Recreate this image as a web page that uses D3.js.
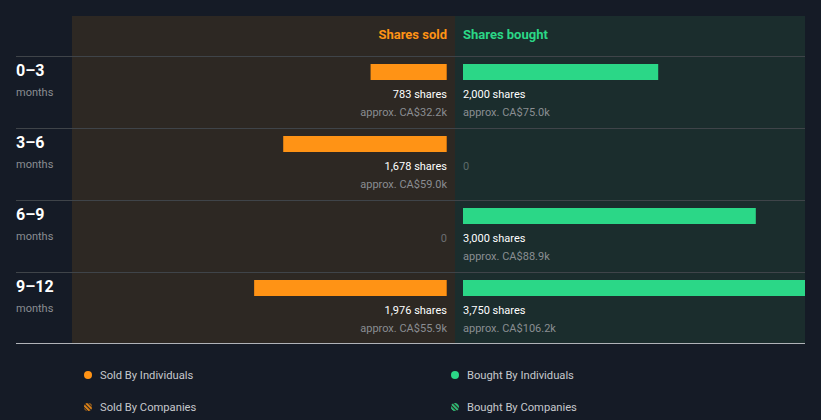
<!DOCTYPE html>
<html><head><meta charset="utf-8">
<script src="https://cdn.jsdelivr.net/npm/d3@7"></script>
<style>body{margin:0;background:#151b26;} svg{display:block;font-family:Roboto,"Noto Sans",sans-serif;}</style>
</head><body>
<svg id="c" width="821" height="420"></svg>
<script>
const periods = ["0\u20133", "3\u20136", "6\u20139", "9\u201312"];
const soldShares = [783, 1678, 0, 1976];
const soldValue = ["CA$32.2k", "CA$59.0k", "", "CA$55.9k"];
const boughtShares = [2000, 0, 3000, 3750];
const boughtValue = ["CA$75.0k", "", "CA$88.9k", "CA$106.2k"];
const legendItems = ["Sold By Individuals", "Bought By Individuals", "Sold By Companies", "Bought By Companies"];

(function(){
const svg = d3.select("#c");
const left = 16, panelL = 72, mid = 455, panelR = 805, topY = 16, headH = 40, rowH = 72;
const bottom = topY + headH + rowH * periods.length - 1;
const orange = "#ff9315", green = "#2bd787";

const defs = svg.append("defs");
defs.append("clipPath").attr("id","cb").append("rect").attr("x",mid).attr("y",topY).attr("width",panelR-mid).attr("height",bottom-topY);
defs.append("clipPath").attr("id","cs").append("rect").attr("x",panelL).attr("y",topY).attr("width",mid-panelL).attr("height",bottom-topY);
function hatch(id, col){
  const p = defs.append("pattern").attr("id",id).attr("patternUnits","userSpaceOnUse").attr("width",3).attr("height",3).attr("patternTransform","rotate(-45)");
  p.append("rect").attr("width",3).attr("height",3).attr("fill","#2d2823");
  p.append("rect").attr("width",1.6).attr("height",3).attr("fill",col);
}
hatch("ho", orange); hatch("hg", green);

svg.append("rect").attr("x",panelL).attr("y",topY).attr("width",mid-panelL).attr("height",bottom-topY).attr("fill","#2d2823");
svg.append("rect").attr("x",mid).attr("y",topY).attr("width",panelR-mid).attr("height",bottom-topY).attr("fill","#1b2d2d");

const y = d3.scaleBand().domain(periods).range([topY+headH, topY+headH+rowH*periods.length]);
const x = d3.scaleLinear().domain([0, 3750]).range([0, 366]);

svg.append("text").attr("x",mid-8).attr("y",topY+23).attr("text-anchor","end").attr("fill",orange).attr("font-size",13).attr("font-weight",700).text("Shares sold");
svg.append("text").attr("x",mid+8).attr("y",topY+23).attr("fill",green).attr("font-size",13).attr("font-weight",700).text("Shares bought");

periods.forEach((p,i)=>{
  const y0 = y(p);
  svg.append("line").attr("x1",left).attr("x2",panelR).attr("y1",y0+0.5).attr("y2",y0+0.5).attr("stroke","#3f4449").attr("stroke-width",1);
  svg.append("text").attr("x",left).attr("y",y0+20).attr("fill","#ffffff").attr("font-size",16).attr("font-weight",700).text(p);
  svg.append("text").attr("x",left).attr("y",y0+40).attr("fill","#8a8d92").attr("font-size",11).text("months");
  const gs = svg.append("g").attr("clip-path","url(#cs)");
  if (soldShares[i] > 0) {
    gs.append("rect").attr("x",mid-8-x(soldShares[i])).attr("y",y0+8).attr("width",x(soldShares[i])).attr("height",16).attr("fill",orange);
    gs.append("rect").attr("x",mid-9).attr("y",y0+8).attr("width",1).attr("height",16).attr("fill","#c8700f");
    svg.append("text").attr("x",mid-8).attr("y",y0+42).attr("text-anchor","end").attr("fill","#ffffff").attr("font-size",11).text(d3.format(",")(soldShares[i])+" shares");
    svg.append("text").attr("x",mid-8).attr("y",y0+60).attr("text-anchor","end").attr("fill","#8a8d92").attr("font-size",11).text("approx. "+soldValue[i]);
  } else {
    svg.append("text").attr("x",mid-8).attr("y",y0+42).attr("text-anchor","end").attr("fill","#6b6e72").attr("font-size",11).text("0");
  }
  const gb = svg.append("g").attr("clip-path","url(#cb)");
  if (boughtShares[i] > 0) {
    gb.append("rect").attr("x",mid+8).attr("y",y0+8).attr("width",x(boughtShares[i])).attr("height",16).attr("fill",green);
    svg.append("text").attr("x",mid+8).attr("y",y0+42).attr("fill","#ffffff").attr("font-size",11).text(d3.format(",")(boughtShares[i])+" shares");
    svg.append("text").attr("x",mid+8).attr("y",y0+60).attr("fill","#8a8d92").attr("font-size",11).text("approx. "+boughtValue[i]);
  } else {
    svg.append("text").attr("x",mid+8).attr("y",y0+42).attr("fill","#5d6a6a").attr("font-size",11).text("0");
  }
});
svg.append("line").attr("x1",left).attr("x2",panelR).attr("y1",bottom+0.5).attr("y2",bottom+0.5).attr("stroke","#b0b3b8").attr("stroke-width",1);

const legPos = [[88,375],[455,375],[88,407],[455,407]];
const legFill = [orange, green, "url(#ho)", "url(#hg)"];
legendItems.forEach((t,i)=>{
  const [cx,cy] = legPos[i];
  svg.append("circle").attr("cx",cx).attr("cy",cy).attr("r",4).attr("fill",legFill[i]);
  svg.append("text").attr("x",cx+12).attr("y",cy+4).attr("fill","#c6c8cc").attr("font-size",11.2).text(t);
});
})();
</script>
</body></html>
